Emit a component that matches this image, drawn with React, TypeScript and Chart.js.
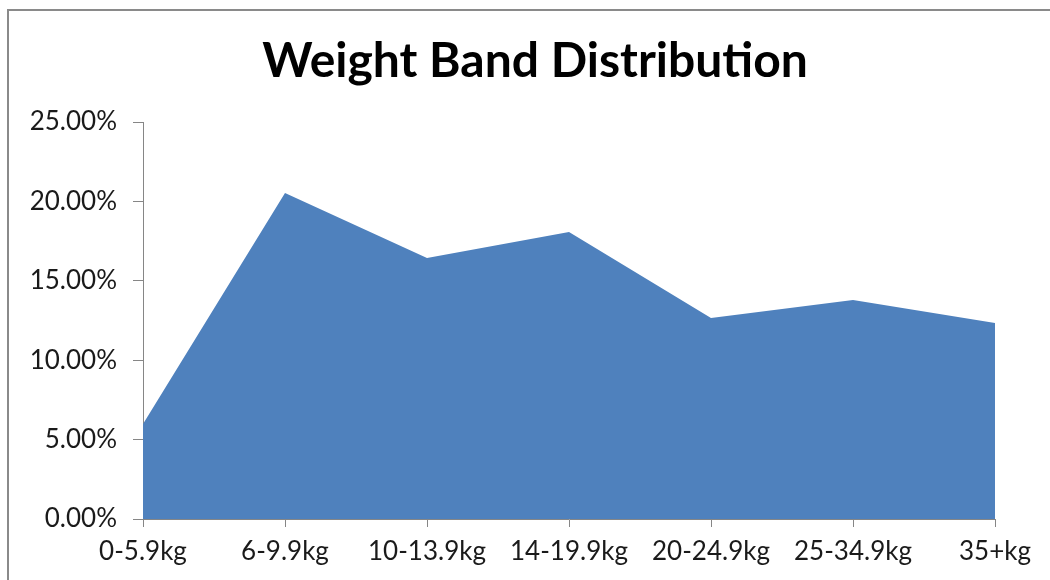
import React, { useEffect, useRef } from "react";
import { Chart, registerables } from "chart.js";

Chart.register(...registerables);

const categories = ["0-5.9kg", "6-9.9kg", "10-13.9kg", "14-19.9kg", "20-24.9kg", "25-34.9kg", "35+kg"];
const shares = [5.98, 20.53, 16.44, 18.07, 12.66, 13.79, 12.34];
const yTicks = [0, 5, 10, 15, 20, 25];
const titleText = "Weight Band Distribution";

const FONT = "Lato, 'Open Sans', sans-serif";
const AXIS = "#868686";

const titlePlugin = {
  id: "offsetTitle",
  afterDraw(chart: any) {
    const ctx = chart.ctx;
    ctx.save();
    ctx.font = `bold 48px ${FONT}`;
    ctx.fillStyle = "#000";
    ctx.textAlign = "center";
    ctx.textBaseline = "middle";
    ctx.fillText(titleText, 535, 62);
    ctx.restore();
  },
};

export default function App() {
  const ref = useRef<HTMLCanvasElement | null>(null);
  useEffect(() => {
    document.body.style.margin = "0";
    document.body.style.overflow = "hidden";
    const chart = new Chart(ref.current as HTMLCanvasElement, {
      type: "line",
      data: {
        labels: categories,
        datasets: [
          {
            data: shares,
            fill: "origin",
            backgroundColor: "#4F81BD",
            borderColor: "#4F81BD",
            borderWidth: 0,
            pointRadius: 0,
            tension: 0,
          },
        ],
      },
      plugins: [titlePlugin],
      options: {
        animation: false,
        responsive: false,
        layout: { padding: { left: 10, right: 55, top: 122, bottom: 0 } },
        plugins: {
          legend: { display: false },
          tooltip: { enabled: false },
          title: { display: false },
        },
        scales: {
          x: {
            type: "category",
            offset: false,
            grid: { display: true, drawOnChartArea: false, drawTicks: true, tickLength: 8, color: AXIS },
            border: { display: true, color: AXIS, width: 1 },
            ticks: { color: "#1a1a1a", font: { family: FONT, size: 26 }, padding: 9, maxRotation: 0, autoSkip: false },
            afterFit: (s: any) => { s.height = 61; },
          },
          y: {
            min: 0,
            max: 25,
            afterBuildTicks: (s: any) => { s.ticks = yTicks.map((v) => ({ value: v })); },
            grid: { display: true, drawOnChartArea: false, drawTicks: true, tickLength: 10, color: AXIS },
            border: { display: true, color: AXIS, width: 1 },
            ticks: {
              color: "#1a1a1a",
              font: { family: FONT, size: 26 },
              padding: 16,
              callback: (v: any) => Number(v).toFixed(2) + "%",
            },
            afterFit: (s: any) => { s.width = 133; },
          },
        },
      },
    });
    return () => chart.destroy();
  }, []);
  return (
    <div style={{ position: "fixed", left: 0, top: 0, width: 1050, height: 580, overflow: "hidden", background: "#fff" }}>
      <div style={{ position: "absolute", left: 7, top: 9, width: 1200, height: 800, border: "2px solid #8a8a8a", boxSizing: "border-box" }} />
      <canvas ref={ref} width={1050} height={580} style={{ position: "absolute", left: 0, top: 0 }} />
    </div>
  );
}
